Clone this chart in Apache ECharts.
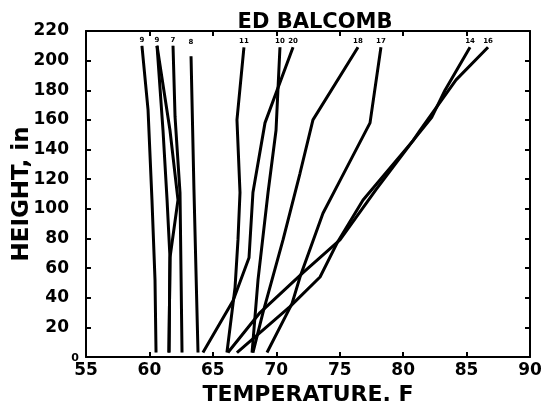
<!DOCTYPE html>
<html>
<head>
<meta charset="utf-8">
<script src="https://cdn.jsdelivr.net/npm/echarts@6/dist/echarts.min.js"></script>
<style>
html,body{margin:0;padding:0;background:#fff;}
#chart{width:545px;height:404px;}
</style>
</head>
<body>
<div id="chart"></div>
<script>
// Temperature (F) profiles versus height (in); each run listed bottom -> top
const run9T  = [60.52, 60.44, 60.20, 59.89, 59.41];
const run9H  = [3, 52, 106, 167, 210];
const run3aT = [61.54, 61.62, 61.39, 61.07, 60.60];
const run3aH = [3, 67, 106, 153, 210];
const run3bT = [61.54, 61.62, 62.25, 61.62, 60.60];
const run3bH = [3, 67, 106, 153, 210];
const run7T  = [62.57, 62.41, 62.02, 61.86];
const run7H  = [3, 111, 162, 210];
const run8T  = [63.83, 63.51, 63.28];
const run8H  = [3, 113, 203];
const run11T = [66.11, 66.75, 66.98, 67.14, 66.90, 67.45];
const run11H = [3, 47, 79, 111, 160, 209];
const run10T = [68.09, 68.56, 69.35, 69.98, 70.29];
const run10H = [3, 52, 111, 153, 209];
const run20T = [64.22, 66.59, 67.85, 68.16, 69.11, 71.32];
const run20H = [3, 38, 67, 111, 158, 209];
const run18T = [68.16, 68.95, 70.53, 71.87, 72.89, 76.44];
const run18H = [3, 30, 79, 124, 160, 209];
const run17T = [69.27, 71.24, 71.87, 73.68, 75.02, 77.39, 78.25];
const run17H = [3, 36, 54, 97, 119, 158, 209];
const run14T = [66.19, 68.72, 72.11, 75.02, 77.86, 80.78, 82.27, 83.30, 85.27];
const run14H = [3, 30, 57, 79, 113, 146, 162, 180, 209];
const run16T = [66.90, 71.08, 73.45, 74.86, 76.84, 80.78, 81.33, 84.17, 86.69];
const run16H = [3, 34, 54, 78, 106, 146, 153, 187, 209];

const runTags = ['9', '9', '', '7', '8', '11', '10', '20', '18', '17', '14', '16'];
const runT = [run9T, run3aT, run3bT, run7T, run8T, run11T, run10T, run20T, run18T, run17T, run14T, run16T];
const runH = [run9H, run3aH, run3bH, run7H, run8H, run11H, run10H, run20H, run18H, run17H, run14H, run16H];

const xTicks = {min: 55, max: 90, interval: 5};
const yTicks = {min: 0, max: 220, interval: 20};

const FONT = '"DejaVu Sans", sans-serif';

const series = runT.map((temps, k) => ({
  type: 'line',
  xAxisIndex: 0,
  yAxisIndex: 0,
  symbol: 'circle',
  symbolSize: 0.5,
  showSymbol: true,
  itemStyle: {color: '#000'},
  silent: true,
  animation: false,
  lineStyle: {color: '#000', width: 3},
  data: temps.map((v, i) => {
    const item = {value: [v, runH[k][i]]};
    if (i === temps.length - 1 && runTags[k]) {
      item.label = {
        show: true, position: 'top', distance: runTags[k] === '8' ? 10 : 2,
        formatter: runTags[k], fontSize: 7, fontWeight: 'bold',
        color: '#000', fontFamily: FONT
      };
    }
    return item;
  })
}));

const axisLineStyle = {show: true, onZero: false, lineStyle: {color: '#000', width: 2}};
const tickStyle = {show: true, inside: true, length: 5, lineStyle: {color: '#000', width: 2}};

const chart = echarts.init(document.getElementById('chart'), null, {renderer: 'canvas'});
chart.setOption({
  backgroundColor: '#fff',
  animation: false,
  title: {
    text: 'ED BALCOMB',
    left: 310, top: 7,
    textAlign: 'center',
    textStyle: {fontFamily: FONT, fontWeight: 'bold', fontSize: 21, color: '#000'}
  },
  grid: {left: 86, right: 15, top: 31, bottom: 47, containLabel: false, outerBoundsMode: 'none'},
  xAxis: [{
    type: 'value', position: 'bottom',
    min: xTicks.min, max: xTicks.max, interval: xTicks.interval,
    name: 'TEMPERATURE. F', nameLocation: 'middle', nameGap: 21,
    nameTextStyle: {fontFamily: FONT, fontWeight: 'bold', fontSize: 22, color: '#000'},
    axisLine: axisLineStyle, axisTick: tickStyle,
    axisLabel: {margin: 5, fontFamily: FONT, fontWeight: 'bold', fontSize: 17, color: '#000'},
    splitLine: {show: false}
  }, {
    type: 'value', position: 'top',
    min: xTicks.min, max: xTicks.max, interval: xTicks.interval,
    axisLine: axisLineStyle, axisTick: tickStyle,
    axisLabel: {show: false}, splitLine: {show: false}
  }],
  yAxis: [{
    type: 'value', position: 'left',
    min: yTicks.min, max: yTicks.max, interval: yTicks.interval,
    name: 'HEIGHT, in', nameLocation: 'middle', nameGap: 52, nameRotate: 90,
    nameMoveOverlap: false,
    nameTextStyle: {fontFamily: FONT, fontWeight: 'bold', fontSize: 23, color: '#000'},
    axisLine: axisLineStyle, axisTick: tickStyle,
    axisLabel: {
      margin: 7, fontFamily: FONT, fontWeight: 'bold', fontSize: 17, color: '#000',
      formatter: v => v === 0 ? '{z|0}' : '{n|' + v + '}',
      rich: {
        n: {fontFamily: FONT, fontWeight: 'bold', fontSize: 17, color: '#000', padding: [0, 10, 0, 0]},
        z: {fontFamily: FONT, fontWeight: 'bold', fontSize: 11, color: '#000', padding: [3, 0, 0, 0]}
      }
    },
    splitLine: {show: false}
  }, {
    type: 'value', position: 'right',
    min: yTicks.min, max: yTicks.max, interval: yTicks.interval,
    axisLine: axisLineStyle, axisTick: tickStyle,
    axisLabel: {show: false}, splitLine: {show: false}
  }],
  series: series
});
</script>
</body>
</html>
